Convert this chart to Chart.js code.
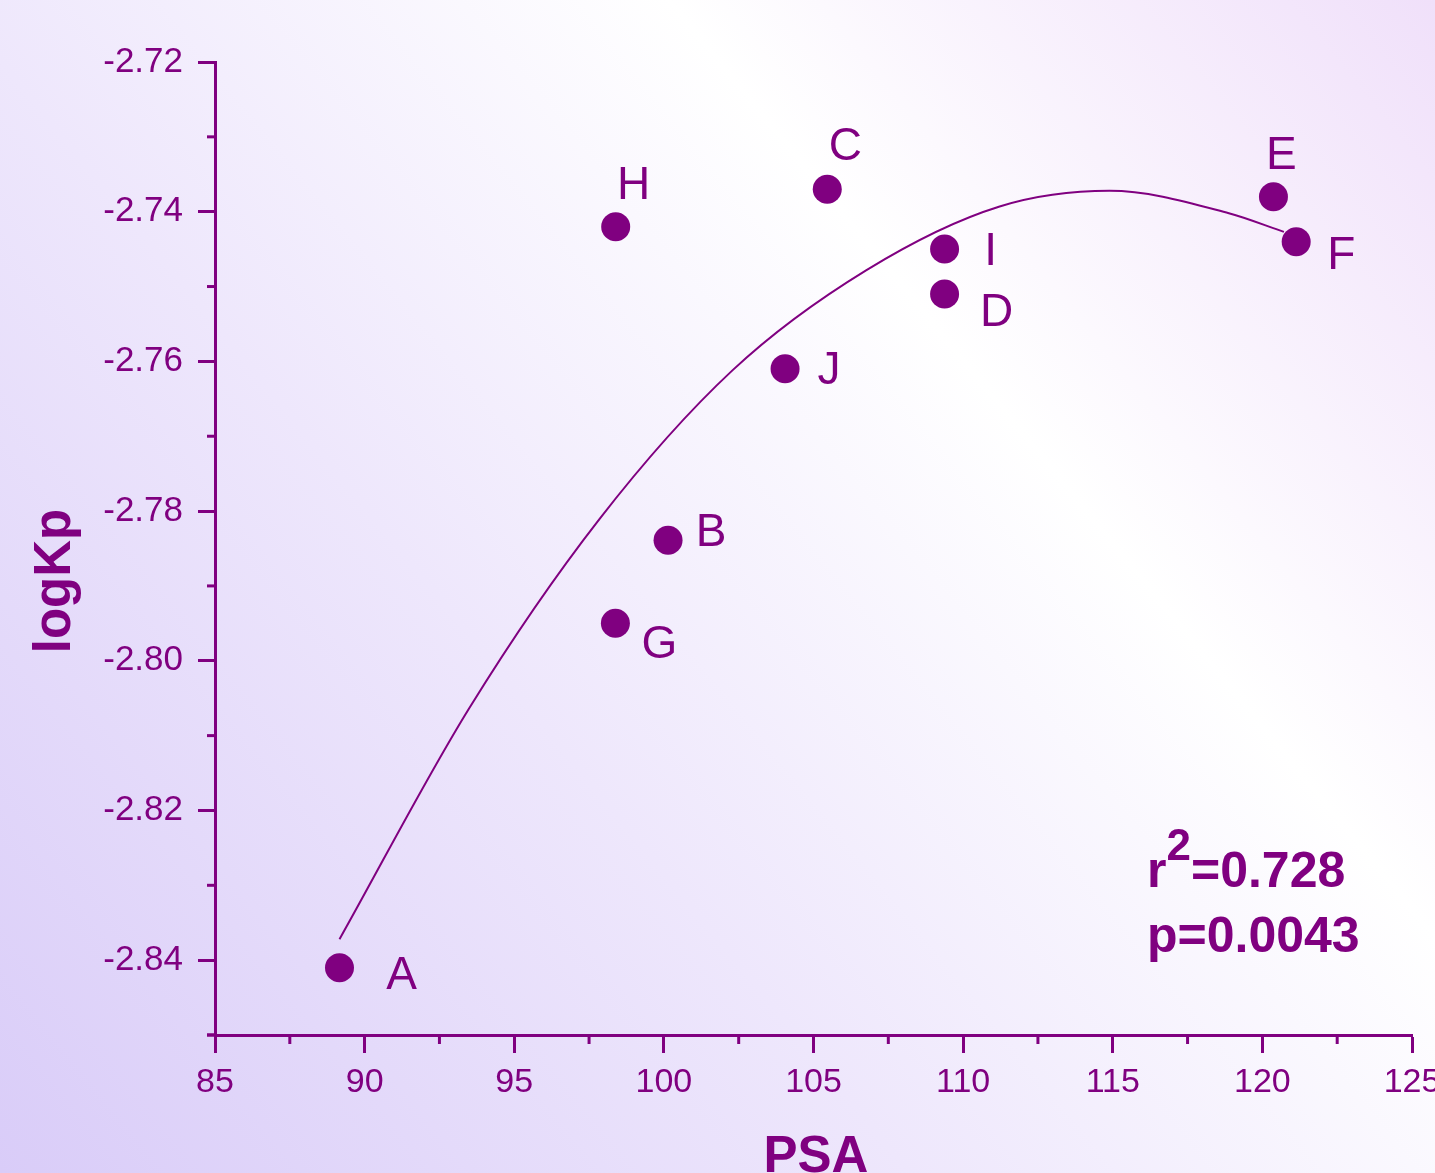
<!DOCTYPE html>
<html>
<head>
<meta charset="utf-8">
<title>logKp vs PSA</title>
<script src="https://cdn.jsdelivr.net/npm/chart.js@4/dist/chart.umd.min.js"></script>
<style>
  html, body { margin: 0; padding: 0; background: #fff; }
  canvas { display: block; }
</style>
</head>
<body>
<canvas id="chart" width="1435" height="1173"></canvas>
<script>
// measured points
const pointNames = ["A", "B", "C", "D", "E", "F", "G", "H", "I", "J"];
const psa   = [89.16, 100.14, 105.46, 109.38, 120.37, 121.13, 98.38, 98.39, 109.38, 104.05];
const logKp = [-2.8410, -2.7839, -2.7370, -2.7510, -2.7380, -2.7440, -2.7950, -2.7420, -2.7450, -2.7610];

// fitted curve
const fitX = [89.16, 93.50, 97.84, 102.29, 106.77, 111.22, 114.89, 118.88, 120.72];
const fitY = [-2.8372, -2.8063, -2.7811, -2.7612, -2.7478, -2.7393, -2.7372, -2.7402, -2.7427];

const xTicks = [85, 90, 95, 100, 105, 110, 115, 120, 125];
const yTicks = [-2.72, -2.74, -2.76, -2.78, -2.80, -2.82, -2.84];
const statLines = ["0.728", "0.0043"];

// label offsets (px) from each point
const labelOffsets = [[62, 9], [43, -7], [18, -42], [52, 19], [8, -40],
                      [45, 15], [44, 22], [18, -40], [46, 3], [44, 2]];

const PURPLE = "#800080";
const FONT = "'Liberation Sans', Arial, sans-serif";

const bgPlugin = {
  id: "bg",
  beforeDraw(chart) {
    const c = chart.ctx, w = chart.width, h = chart.height;
    const g = c.createLinearGradient(0, h, w, 0);
    g.addColorStop(0, "#d9ccf8");
    g.addColorStop(0.38, "#eee7fc");
    g.addColorStop(0.68, "#ffffff");
    g.addColorStop(1, "#f0e0fa");
    c.save();
    c.fillStyle = g;
    c.fillRect(0, 0, w, h);
    c.restore();
  }
};

const decoPlugin = {
  id: "deco",
  afterDraw(chart) {
    const c = chart.ctx;
    const xs = chart.scales.x, ys = chart.scales.y;
    const area = chart.chartArea;
    c.save();
    // minor ticks
    c.strokeStyle = PURPLE;
    c.lineWidth = 3;
    for (let i = 0; i < xTicks.length - 1; i++) {
      const px = xs.getPixelForValue((xTicks[i] + xTicks[i + 1]) / 2);
      c.beginPath(); c.moveTo(px, area.bottom); c.lineTo(px, area.bottom + 9); c.stroke();
    }
    const ySteps = [yTicks[0] + 0.01].concat(yTicks.map(v => v - 0.01));
    ySteps.forEach(v => {
      if (v > ys.max + 1e-9 || v < ys.min - 1e-9) return;
      const py = ys.getPixelForValue(v);
      c.beginPath(); c.moveTo(area.left - 8, py); c.lineTo(area.left, py); c.stroke();
    });
    // extend x axis line slightly left
    c.beginPath(); c.moveTo(area.left - 8, area.bottom); c.lineTo(area.left, area.bottom); c.stroke();

    // point letters
    c.fillStyle = PURPLE;
    c.font = "46px " + FONT;
    c.textAlign = "center";
    c.textBaseline = "middle";
    pointNames.forEach((n, i) => {
      const px = xs.getPixelForValue(psa[i]) + labelOffsets[i][0];
      const py = ys.getPixelForValue(logKp[i]) + labelOffsets[i][1];
      c.fillText(n, px, py);
    });

    // axis titles
    c.font = "bold 51px " + FONT;
    c.textBaseline = "alphabetic";
    c.fillText("PSA", 816, 1172);
    c.save();
    c.translate(70, 581);
    c.rotate(-Math.PI / 2);
    c.fillText("logKp", 0, 0);
    c.restore();

    // stats
    c.textAlign = "left";
    c.font = "bold 50px " + FONT;
    let x0 = 1147;
    c.fillText("r", x0, 887);
    x0 += c.measureText("r").width;
    c.font = "bold 44px " + FONT;
    c.fillText("2", x0, 860);
    x0 += c.measureText("2").width;
    c.font = "bold 50px " + FONT;
    c.fillText("=" + statLines[0], x0, 887);
    c.fillText("p=" + statLines[1], 1147, 952);
    c.restore();
  }
};

new Chart(document.getElementById("chart"), {
  type: "scatter",
  data: {
    datasets: [
      {
        label: "fit",
        data: fitX.map((x, i) => ({ x, y: fitY[i] })),
        showLine: true,
        borderColor: PURPLE,
        borderWidth: 2,
        pointRadius: 0,
        cubicInterpolationMode: "monotone",
        fill: false
      },
      {
        label: "compounds",
        data: psa.map((x, i) => ({ x, y: logKp[i] })),
        backgroundColor: PURPLE,
        borderColor: PURPLE,
        pointRadius: 14.5,
        borderWidth: 0
      }
    ]
  },
  options: {
    responsive: false,
    animation: false,
    layout: { padding: { top: 62, right: 23, left: 0, bottom: 0 } },
    plugins: { legend: { display: false }, tooltip: { enabled: false } },
    scales: {
      x: {
        type: "linear",
        min: 85, max: 125,
        afterBuildTicks: s => { s.ticks = xTicks.map(v => ({ value: v })); },
        afterFit: s => { s.height = 138; s.paddingLeft = 0; s.paddingRight = 0; },
        border: { display: true, color: PURPLE, width: 3 },
        grid: { display: true, drawOnChartArea: false, drawTicks: true, tickLength: 18, tickWidth: 3, tickColor: PURPLE, color: PURPLE },
        ticks: { color: PURPLE, font: { family: FONT, size: 34 }, padding: 9, maxRotation: 0, autoSkip: false }
      },
      y: {
        type: "linear",
        min: -2.85, max: -2.72,
        afterBuildTicks: s => { s.ticks = yTicks.map(v => ({ value: v })); },
        afterFit: s => { s.width = 215; s.paddingTop = 0; s.paddingBottom = 0; },
        border: { display: true, color: PURPLE, width: 3 },
        grid: { display: true, drawOnChartArea: false, drawTicks: true, tickLength: 17, tickWidth: 3, tickColor: PURPLE, color: PURPLE },
        ticks: { color: PURPLE, font: { family: FONT, size: 35 }, padding: 15,
                 callback: v => v.toFixed(2) }
      }
    }
  },
  plugins: [bgPlugin, decoPlugin]
});
</script>
</body>
</html>
